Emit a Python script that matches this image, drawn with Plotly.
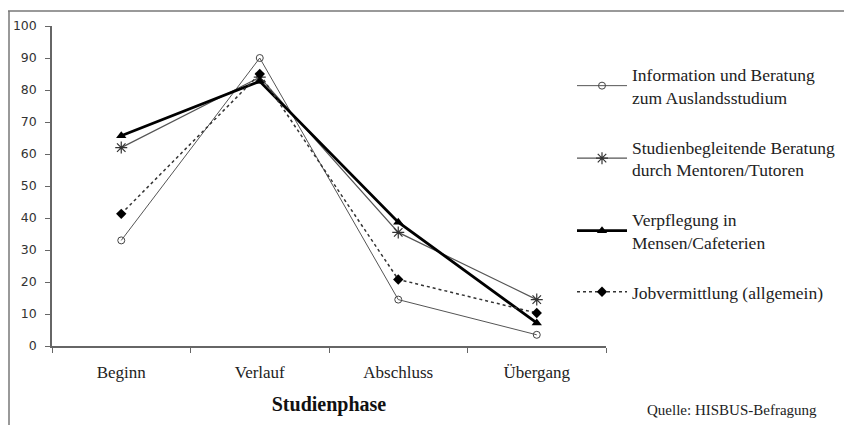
import plotly.graph_objects as go

categories = ["Beginn", "Verlauf", "Abschluss", "Übergang"]
info = [33, 90, 14.5, 3.5]
mentoren = [62, 84, 35.5, 14.5]
mensen = [65.7, 82.7, 38.7, 7.2]
job = [41.3, 85, 20.8, 10.3]

names = [
    "Information und Beratung<br>zum Auslandsstudium",
    "Studienbegleitende Beratung<br>durch Mentoren/Tutoren",
    "Verpflegung in<br>Mensen/Cafeterien",
    "Jobvermittlung (allgemein)",
]

SERIF = "Liberation Serif, Times New Roman, serif"

fig = go.Figure()
fig.add_trace(go.Scatter(
    x=categories, y=info, name=names[0], mode="lines+markers",
    line=dict(color="#555555", width=1),
    marker=dict(symbol="circle-open", size=7, color="#444444", line=dict(width=1)),
    legendgroup="a"))
fig.add_trace(go.Scatter(
    x=categories, y=mentoren, name=names[1], mode="lines+markers",
    line=dict(color="#555555", width=1.2),
    marker=dict(symbol="asterisk-open", size=10, color="#333333", line=dict(width=1.2)),
    legendgroup="b"))
fig.add_trace(go.Scatter(
    x=categories, y=mensen, name=names[2], mode="lines+markers",
    line=dict(color="#000000", width=2.8),
    marker=dict(symbol="triangle-up", size=9, color="#000000"),
    legendgroup="c"))
fig.add_trace(go.Scatter(
    x=categories, y=job, name=names[3], mode="lines+markers",
    line=dict(color="#333333", width=1.5, dash="dot"),
    marker=dict(symbol="diamond", size=8, color="#000000"),
    legendgroup="d"))

L, R, T, B = 44, 254, 18, 87
PW = 852 - L - R
PH = 425 - T - B

fig.update_layout(
    width=852, height=425,
    margin=dict(l=L, r=R, t=T, b=B, autoexpand=False),
    paper_bgcolor="white", plot_bgcolor="white",
    font=dict(family=SERIF, size=15, color="#222222"),
    showlegend=True,
    legend=dict(
        x=(564 - L) / PW, y=0.905, xanchor="left", yanchor="top",
        font=dict(family=SERIF, size=17.5, color="#222222"),
        tracegroupgap=24, itemwidth=50,
        bgcolor="rgba(0,0,0,0)",
    ),
    xaxis=dict(
        type="category", showgrid=False, showline=True, linecolor="#666666",
        linewidth=1.5, ticks="outside", tickson="boundaries", ticklen=5,
        tickcolor="#666666", tickfont=dict(family=SERIF, size=17, color="#222222"),
        ticklabelstandoff=10, automargin=False,
        zeroline=False, range=[-0.5, 3.5],
        title=dict(text="<b>Studienphase</b>", font=dict(family=SERIF, size=20, color="#111111"),
                   standoff=16),
    ),
    yaxis=dict(
        range=[0, 100], dtick=10, showgrid=False, showline=True,
        linecolor="#666666", linewidth=1.5, ticks="outside", ticklen=5,
        tickcolor="#666666", zeroline=False, ticklabelstandoff=6, automargin=False,
        tickfont=dict(family="DejaVu Sans, sans-serif", size=12.5, color="#333333"),
    ),
    shapes=[
        dict(type="line", xref="paper", yref="paper", x0=-L / PW, x1=1.6,
             y0=1 + 15 / PH, y1=1 + 15 / PH, line=dict(color="#777777", width=1.5)),
        dict(type="line", xref="paper", yref="paper", x0=-(L - 1) / PW, x1=-(L - 1) / PW,
             y0=1 + 15 / PH, y1=-0.3, line=dict(color="#777777", width=1.5)),
    ],
    annotations=[
        dict(text="Quelle: HISBUS-Befragung", xref="paper", yref="paper",
             x=(637 - L) / PW, y=-64 / PH, xanchor="left", yanchor="middle", showarrow=False,
             font=dict(family=SERIF, size=15, color="#222222")),
    ],
)

fig.write_html("out.html")
